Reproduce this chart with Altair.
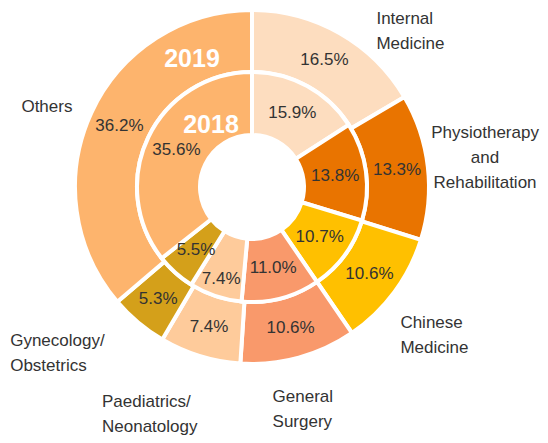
import altair as alt
import pandas as pd

categories = ["Internal Medicine", "Physiotherapy and Rehabilitation", "Chinese Medicine",
              "General Surgery", "Paediatrics/Neonatology", "Gynecology/Obstetrics", "Others"]
label_lines = ["Internal\nMedicine", "Physiotherapy\nand\nRehabilitation", "Chinese\nMedicine",
               "General\nSurgery", "Paediatrics/\nNeonatology", "Gynecology/\nObstetrics", "Others"]
share_2019 = [16.5, 13.3, 10.6, 10.6, 7.4, 5.3, 36.2]
share_2018 = [15.9, 13.8, 10.7, 11.0, 7.4, 5.5, 35.6]
years = ["2019", "2018"]

colors = ["#FDDDBF", "#E97400", "#FFC000", "#F9996B", "#FECB9B", "#D4A01A", "#FDB46D"]

# label placement nudges (style only); dy refers to the first line
lab_dx = [52, 88, 31, -18, -107, -148, -47]
lab_dy = [-41.5, -37, 49.5, 69.5, 75, 42.5, -19]
lab_align = ["left", "center", "left", "left", "left", "left", "right"]

FONT = "Liberation Sans"
TXT = "#333333"
CX, CY = 244, 179


def frame(vals):
    return pd.DataFrame({
        "cat": categories,
        "ord": list(range(len(categories))),
        "value": vals,
        "pct": [f"{v:.1f}%" for v in vals],
        "lab": label_lines,
    })


d19 = frame(share_2019)
d18 = frame(share_2018)

enc = dict(
    theta=alt.Theta("value:Q", stack=True),
    order=alt.Order("ord:Q"),
)
color = alt.Color("cat:N", scale=alt.Scale(domain=categories, range=colors), legend=None)

outer = alt.Chart(d19).mark_arc(outerRadius=177, innerRadius=115, stroke="white",
                                strokeWidth=4).encode(color=color, **enc)
inner = alt.Chart(d18).mark_arc(outerRadius=115, innerRadius=52, stroke="white",
                                strokeWidth=4).encode(color=color, **enc)
outer_t = alt.Chart(d19).mark_text(radius=146, font=FONT, fontSize=17, color=TXT).encode(
    text="pct:N", **enc)
inner_t = alt.Chart(d18).mark_text(radius=84, font=FONT, fontSize=17, color=TXT).encode(
    text=alt.condition("datum.ord != 4", alt.Text("pct:N"), alt.value("")), **enc)
inner_t2 = alt.Chart(d18).mark_text(radius=97, font=FONT, fontSize=17, color=TXT).encode(
    text=alt.condition("datum.ord == 4", alt.Text("pct:N"), alt.value("")), **enc)

layers = [outer, inner, outer_t, inner_t, inner_t2]
for i, c in enumerate(categories):
    layers.append(
        alt.Chart(d19).mark_text(radius=146, font=FONT, fontSize=17, color=TXT,
                                 dx=lab_dx[i], dy=lab_dy[i], align=lab_align[i],
                                 baseline="middle", lineBreak="\n", lineHeight=25).encode(
            text=alt.condition(f"datum.ord == {i}", alt.Text("lab:N"), alt.value("")),
            **enc)
    )

yr = pd.DataFrame({"year": years})
y19 = alt.Chart(yr).transform_filter("datum.year == '2019'").mark_text(
    font=FONT, fontWeight="bold", fontSize=25, color="white").encode(
    text="year:N", x=alt.value(CX - 60), y=alt.value(CY - 128))
y18 = alt.Chart(yr).transform_filter("datum.year == '2018'").mark_text(
    font=FONT, fontWeight="bold", fontSize=25, color="white").encode(
    text="year:N", x=alt.value(CX - 41), y=alt.value(CY - 62))
layers += [y19, y18]

chart = alt.layer(*layers).properties(
    width=2 * CX, height=2 * CY,
    autosize=alt.AutoSizeParams(type="none"),
    padding={"left": 0, "top": 0, "right": 532 - 2 * CX, "bottom": 427 - 2 * CY},
).configure_view(stroke=None)

chart.save("out.html", embed_options={"renderer": "svg", "actions": False})
